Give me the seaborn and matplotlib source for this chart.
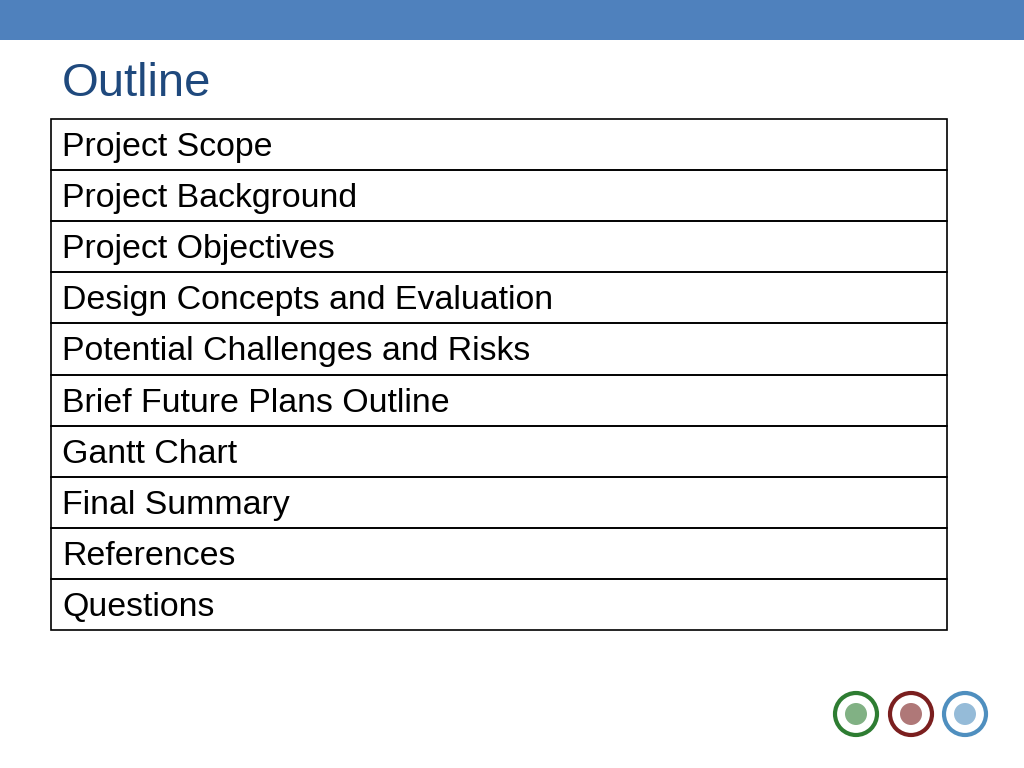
import matplotlib
matplotlib.use("Agg")
import matplotlib.pyplot as plt
import seaborn as sns
from matplotlib.patches import Rectangle, Circle

sns.set_theme(style="white")
plt.rcParams["font.family"] = "Liberation Sans"

title = "Outline"
items = ["Project Scope", "Project Background", "Project Objectives",
         "Design Concepts and Evaluation", "Potential Challenges and Risks",
         "Brief Future Plans Outline", "Gantt Chart", "Final Summary",
         "References", "Questions"]

fig = plt.figure(figsize=(10.24, 7.68), dpi=100)
ax = fig.add_axes([0, 0, 1, 1])
ax.set_xlim(0, 1024); ax.set_ylim(768, 0); ax.axis("off")

ax.add_patch(Rectangle((0, 0), 1024, 40, color="#4F81BD", lw=0))
ax.text(62, 84, title, fontsize=34, color="#1F497D", va="center", ha="left")

top, rh, left, right = 119, 51.1, 51, 947
for i, it in enumerate(items):
    y = top + i * rh
    ax.add_patch(Rectangle((left, y), right - left, rh, fill=False, ec="black", lw=1.2))
    ax.text(62, y + rh / 2 + 3, it, fontsize=24.4, color="black", va="center", ha="left")

for cx, col in [(856, "#2e7d32"), (911, "#7b1f1f"), (965, "#4f8fbf")]:
    ax.add_patch(Circle((cx, 714), 21, fc="white", ec=col, lw=3))
    ax.add_patch(Circle((cx, 714), 11, fc=col, ec="none", alpha=0.6))

fig.savefig("out.png", dpi=100)
